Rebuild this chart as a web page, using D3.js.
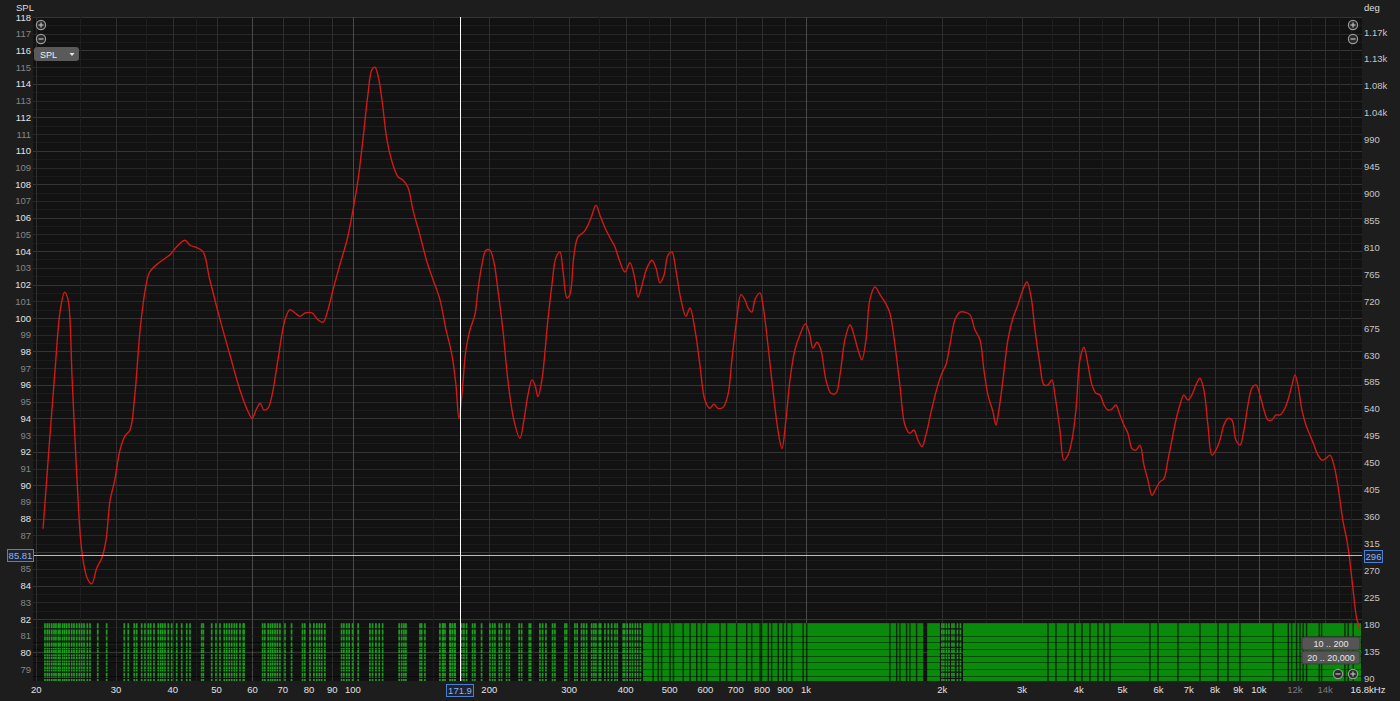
<!DOCTYPE html>
<html>
<head>
<meta charset="utf-8">
<script src="https://cdn.jsdelivr.net/npm/d3@7"></script>
<style>
  html, body { margin: 0; padding: 0; background: #1d1d1d; overflow: hidden; }
  svg { display: block; font-family: "Liberation Sans", Arial, sans-serif; }
</style>
</head>
<body>
<svg id="chart" width="1400" height="701"></svg>
<script>
/*##############################
#   Data  #
###############################*/

// SPL trace (red)
const freqHz = [20.7,21.4,22.0,22.6,23.1,23.5,24.0,24.6,25.2,25.9,26.5,27.2,27.9,28.5,29.1,29.8,30.6,31.4,32.2,33.0,33.9,34.8,35.6,37.5,39.5,41.1,42.6,43.7,45.3,46.7,48.3,50.9,53.5,56.3,58.7,59.9,61.1,62.4,63.6,64.9,66.3,68.3,70.8,72.6,74.5,76.4,78.4,81.2,83.7,85.9,88.1,90.4,93.6,97.0,
  100,102.6,105.2,107.9,110.1,111.8,113.6,115.9,118.9,122.6,125.7,128.9,132.3,135.7,140.6,145.7,150.2,155.6,160.5,165.4,168.8,171.4,174.0,177.6,181.3,185.9,188.8,192.7,196.6,200.6,204.7,208.9,214.3,219.8,226.6,233.7,238.5,243.4,248.4,252.2,256.1,261.3,269.4,275.0,280.6,286.4,290.8,296.8,301.3,307.5,313.9,323.6,330.2,337.0,343.9,351.0,360.0,369.3,378.8,388.6,398.6,408.8,419.4,425.8,434.5,445.7,457.1,466.5,476.1,485.9,495.8,506.0,516.4,529.7,543.4,554.6,568.9,583.4,598.4,613.8,626.5,639.3,655.8,672.6,686.4,704.1,718.6,733.3,744.7,760.0,771.6,791.5,803.6,824.3,845.5,867.3,885.1,903.3,922.0,945.6,970.1,997.5,
  1020,1036,1058,1079,1107,1136,1165,1189,1219,1251,1276,1303,1329,1357,1384,1420,1457,1494,1532,1572,1612,1654,1696,1731,1767,1803,1840,1897,1956,1996,2037,2079,2133,2188,2244,2301,2361,2422,2471,2522,2587,2627,2667,2722,2792,2864,2938,3013,3075,3139,3203,3286,3353,3422,3491,3545,3636,3711,3788,3866,3945,4026,4109,4194,4280,4368,4457,4549,4642,4737,4835,4934,5035,5139,5244,5352,5462,5574,5689,5805,5924,6046,6170,6296,6425,6558,6692,6829,6970,7113,7259,7408,7560,7716,7874,8036,8201,8369,8542,8717,8896,9081,9267,9456,9650,9849,
  10050,10260,10470,10680,10900,11130,11360,11590,11830,12010,12190,12440,12700,12960,13230,13500,13770,14060,14350,14640,14870,15100,15320,15640,15820,16100,16430,16710];
const splDb = [87.4,92.7,96.9,100.5,101.55,101.1,96.3,90.3,86.1,84.45,84.1,85.05,85.65,86.7,89.1,90.3,92.1,92.95,93.3,95.4,99.3,101.7,102.75,103.35,103.8,104.35,104.65,104.35,104.2,103.95,102.3,99.9,97.8,95.7,94.4,94.0,94.5,94.9,94.5,94.6,95.4,97.5,99.9,100.5,100.3,100.1,100.3,100.3,99.9,99.75,100.5,101.7,103.2,104.65,
  106.45,108.25,110.65,113.35,114.85,115.0,114.5,113.05,110.65,109.15,108.45,108.25,107.8,106.45,104.95,103.35,102.3,101.1,99.3,97.8,96.0,94.0,95.4,98.1,99.3,100.2,101.7,103.2,104.05,104.05,103.35,101.7,99.3,96.3,93.9,92.8,93.9,95.4,96.3,96.0,95.3,96.3,99.9,102.0,103.6,103.95,102.85,101.2,101.4,103.75,104.85,105.15,105.55,106.15,106.75,106.15,105.4,104.8,104.25,103.35,102.75,103.3,102.3,101.25,101.95,103.0,103.45,103.0,102.1,102.55,103.75,103.95,102.85,101.1,100.1,100.6,99.3,97.2,95.1,94.6,94.85,94.6,94.65,95.4,97.5,100.0,101.4,101.1,100.6,100.35,101.1,101.5,100.8,98.4,95.7,93.3,92.2,93.9,96.3,98.1,99.0,99.65,
  99.0,98.2,98.55,98.1,96.3,95.5,95.5,96.6,98.7,99.6,99.0,98.1,97.5,98.7,101.1,101.85,101.4,100.95,100.3,98.4,96.0,93.6,93.1,93.3,92.7,92.3,93.0,94.6,96.0,96.7,97.2,98.4,99.9,100.35,100.35,100.2,99.3,98.7,96.9,95.4,94.4,93.6,94.5,96.3,98.7,100.0,100.8,101.7,102.15,101.3,99.3,97.2,96.0,96.0,96.3,95.4,93.3,91.5,91.8,92.7,94.5,97.5,98.25,97.2,96.0,95.5,95.4,94.8,94.5,94.55,94.8,94.2,93.6,93.1,92.2,92.1,92.4,91.2,90.3,89.4,89.8,90.2,90.4,91.5,92.7,93.9,94.8,95.4,95.1,95.4,96.0,96.4,95.7,93.6,91.8,92.1,92.7,93.6,94.0,93.9,92.7,92.4,93.3,94.8,95.8,96.0,
  95.4,94.5,93.9,93.9,94.2,94.2,94.5,95.1,96.0,96.6,96.0,94.5,93.6,93.0,92.4,91.8,91.5,91.6,91.8,91.2,90.3,89.1,87.9,86.7,85.8,84.0,82.05,81.35];

// axis ticks
const splTicks = d3.range(79, 119);
const degTicks = [90,135,180,225,270,315,360,405,450,495,540,585,630,675,720,765,810,855,900,945,990,1035,1080,1125,1170];
const freqTicks = [20,30,40,50,60,70,80,90,100,200,300,400,500,600,700,800,900,1000,2000,3000,4000,5000,6000,7000,8000,9000,10000,12000,14000];
const greyFreqTicks = [12000, 14000];
const freqMinor = [25,35,45,150,250,350,450,1500,2500,3500,4500,11000,13000,15000,16000];

// green bar strip at the bottom
const lowBarsHz = [20.9,21.15,21.37,21.63,21.88,22.1,22.37,22.56,22.87,23.1,23.34,23.62,23.94,24.22,24.56,24.89,25.19,25.49,25.92,26.28,27.33,28.6,31.28,31.92,32.91,33.32,34.17,34.75,35.34,35.77,36.38,37.18,37.64,38.02,38.47,39.12,39.8,40.83,41.88,42.96,43.69,46.36,46.75,48.78,49.85,50.87,52.0,52.64,53.34,54.0,54.72,55.38,56.32,57.27,
  57.5,63.2,63.9,65.0,65.8,66.5,67.3,68.1,69.0,70.8,73.2,77.4,78.3,80.4,82.0,83.2,84.3,85.3,86.7,94.4,95.5,96.9,98.1,99.8,102.7,109.0,110.5,112.4,114.3,116.3,126.5,128.1,129.6,130.9,140.6,141.8,144.2,155.6,158.3,163.7,168.0,
  157.8,159.7,164.3,166.0,167.9,173.8,175.8,178.2,183.7,185.9,192.3,200.6,203.4,205.8,210.4,212.9,218.4,221.4,232.8,235.7,245.0,246.8,258.7,262.3,266.7,275.9,279.2,293.8,296.3,309.0,312.6,319.7,323.5,328.0,336.5,340.4,343.9,349.8,352.3,360.0,366.2,372.5,378.8,383.2,395.1,398,403,409,414,420,425,431,
  1996,2016,2042,2069,2101,2122,2160,2193];
const solidBandsHz = [[437, 1815], [1852, 1976], [2222, 16800]];
const darkLinesHz = [460,472,480,501,510,536,555,574,588,604,646,668,703,740,759,792,798,826,840,869,891,907,930,986,1004,1532,1586,1612,1668,1696,1755,
  3422,3564,3788,3925,4068,4236,4412,4549,4690,5745,5984,6625,7408,8120,8542,9081,10750,11610,11810,12110,12320,12520,12740,13590,13750,15480,15740,16150];

// cursors
const cursorHz = 171.9, cursorSpl = 85.81, cursorDeg = 296;

/*##############################
#       Scales                 #
###############################*/
const svg = d3.select("#chart");
const plot = {left: 33, right: 1362, top: 17, bottom: 681};

const x = d3.scaleLog().domain([20, 16800]).range([36.3, 1361]);
const y = d3.scaleLinear().domain([82, 118]).range([619, 17]);
const yDeg = d3.scaleLinear().domain([90, 1170]).range([678, 32]);

svg.append("rect").attr("width", 1400).attr("height", 701).attr("fill", "#1d1d1d");
svg.append("rect")
  .attr("x", plot.left).attr("y", plot.top)
  .attr("width", plot.right - plot.left).attr("height", plot.bottom - plot.top)
  .attr("fill", "#121212");

svg.append("clipPath").attr("id", "clip").append("rect")
  .attr("x", plot.left).attr("y", plot.top)
  .attr("width", plot.right - plot.left).attr("height", plot.bottom - plot.top);

const g = svg.append("g").attr("clip-path", "url(#clip)");

// grid - half dB, then whole dB
g.selectAll(".hminor").data(splTicks).enter().append("line")
  .attr("x1", plot.left).attr("x2", plot.right)
  .attr("y1", d => Math.round(y(d + 0.5)) + 0.5).attr("y2", d => Math.round(y(d + 0.5)) + 0.5)
  .attr("stroke", "#1c1c1c");
g.selectAll(".hmajor").data(splTicks).enter().append("line")
  .attr("x1", plot.left).attr("x2", plot.right)
  .attr("y1", d => Math.round(y(d)) + 0.5).attr("y2", d => Math.round(y(d)) + 0.5)
  .attr("stroke", d => d % 2 == 0 ? "#353535" : "#282828");

g.selectAll(".vminor").data(freqMinor).enter().append("line")
  .attr("x1", d => Math.round(x(d)) + 0.5).attr("x2", d => Math.round(x(d)) + 0.5)
  .attr("y1", plot.top).attr("y2", plot.bottom)
  .attr("stroke", "#1e1e1e");
g.selectAll(".vmajor").data(freqTicks).enter().append("line")
  .attr("x1", d => Math.round(x(d)) + 0.5).attr("x2", d => Math.round(x(d)) + 0.5)
  .attr("y1", plot.top).attr("y2", plot.bottom)
  .attr("stroke", d => [60, 100, 1000, 10000].includes(d) ? "#4a4a4a" : "#2e2e2e");

// green strip
const stripTop = y(81.75);
g.selectAll(".band").data(solidBandsHz).enter().append("rect")
  .attr("x", d => x(d[0])).attr("width", d => x(d[1]) - x(d[0]))
  .attr("y", stripTop).attr("height", plot.bottom - stripTop)
  .attr("fill", "#0a8a0a");
g.selectAll(".lowbar").data(lowBarsHz).enter().append("line")
  .attr("x1", d => x(d)).attr("x2", d => x(d))
  .attr("y1", stripTop).attr("y2", plot.bottom)
  .attr("stroke", "#1aa01c").attr("stroke-width", 1.7)
  .attr("stroke-dasharray", "5,1.2");
g.selectAll(".darkbar").data(darkLinesHz).enter().append("rect")
  .attr("x", d => x(d) - 0.7).attr("width", 1.4)
  .attr("y", stripTop).attr("height", plot.bottom - stripTop)
  .attr("fill", "#0b2a0b");
g.selectAll(".stripline").data(d3.range(78.6, 81.01, 0.4)).enter().append("line")
  .attr("x1", plot.left).attr("x2", plot.right)
  .attr("y1", d => Math.round(y(d)) + 0.5).attr("y2", d => Math.round(y(d)) + 0.5)
  .attr("stroke", "rgba(0,0,0,0.45)").attr("stroke-width", 1.2);

// red SPL line
const pts = freqHz.map((f, i) => [f, splDb[i]]);
g.append("path")
  .datum(pts)
  .attr("fill", "none")
  .attr("stroke", "#d31818")
  .attr("stroke-width", 1.4)
  .attr("d", d3.line().x(d => x(d[0])).y(d => y(d[1])).curve(d3.curveCatmullRom.alpha(0.5)));

// cursors
g.append("line")
  .attr("x1", plot.left).attr("x2", plot.right)
  .attr("y1", Math.round(y(cursorSpl)) + 0.5).attr("y2", Math.round(y(cursorSpl)) + 0.5)
  .attr("stroke", "#bdbdbd");
g.append("line")
  .attr("x1", Math.round(x(cursorHz)) + 0.5).attr("x2", Math.round(x(cursorHz)) + 0.5)
  .attr("y1", plot.top).attr("y2", plot.bottom)
  .attr("stroke", "#ffffff");

/*##############################
#       Axis labels            #
###############################*/
svg.append("text").attr("x", 16).attr("y", 11).attr("font-size", 9.5).attr("fill", "#dcdcdc").text("SPL");
svg.append("text").attr("x", 1364).attr("y", 11).attr("font-size", 9.5).attr("fill", "#dcdcdc").text("deg");

// the cursor readout box sits on top of the nearest SPL label
const splShown = splTicks.filter(d => Math.abs(y(d) - y(cursorSpl)) > 8);
svg.selectAll(".splLab").data(splShown).enter().append("text")
  .attr("x", 31).attr("y", d => y(d) + 3.5)
  .attr("text-anchor", "end").attr("font-size", 9.5)
  .attr("fill", d => d % 2 == 0 ? "#e2e2e2" : "#858585")
  .text(d => d);

const degFmt = d => d >= 1000 ? (Math.round(d / 10) / 100) + "k" : d;
svg.selectAll(".degLab").data(degTicks).enter().append("text")
  .attr("x", 1364).attr("y", d => yDeg(d) + 3.5)
  .attr("font-size", 9.5).attr("fill", "#c4c4c4")
  .text(degFmt);

const fFmt = d => d >= 1000 ? (d / 1000) + "k" : d;
svg.selectAll(".fLab").data(freqTicks).enter().append("text")
  .attr("x", d => x(d)).attr("y", 693)
  .attr("text-anchor", "middle").attr("font-size", 9.5)
  .attr("fill", d => greyFreqTicks.includes(d) ? "#7a7a7a" : "#e2e2e2")
  .text(fFmt);
svg.append("text").attr("x", 1368).attr("y", 693).attr("text-anchor", "middle")
  .attr("font-size", 9.5).attr("fill", "#e2e2e2").text("16.8kHz");

// cursor readouts
function readout(cx, cy, w, txt) {
  svg.append("rect").attr("x", cx).attr("y", cy).attr("width", w).attr("height", 12)
    .attr("fill", "#1d2430").attr("stroke", "#4f7fcf").attr("stroke-width", 1);
  svg.append("text").attr("x", cx + w / 2).attr("y", cy + 9.5).attr("text-anchor", "middle")
    .attr("font-size", 9.5).attr("fill", "#8fb3ef").text(txt);
}
readout(7.5, Math.round(y(cursorSpl)) - 5.5, 26, cursorSpl.toFixed(2));
readout(1364.5, Math.round(yDeg(cursorDeg)) - 4.5, 18, cursorDeg);
readout(Math.round(x(cursorHz)) - 13.5, 684.5, 27, cursorHz.toFixed(1));

/*##############################
#       Widgets                #
###############################*/
function zoomBtn(cx, cy, plus) {
  svg.append("circle").attr("cx", cx).attr("cy", cy).attr("r", 4.6)
    .attr("fill", "#2a2a2a").attr("stroke", "#9a9a9a").attr("stroke-width", 1.2);
  svg.append("line").attr("x1", cx - 2.5).attr("x2", cx + 2.5).attr("y1", cy).attr("y2", cy)
    .attr("stroke", "#b5b5b5").attr("stroke-width", 1.3);
  if (plus) {
    svg.append("line").attr("x1", cx).attr("x2", cx).attr("y1", cy - 2.5).attr("y2", cy + 2.5)
      .attr("stroke", "#b5b5b5").attr("stroke-width", 1.3);
  }
}
zoomBtn(41, 25, true);
zoomBtn(41, 39, false);
zoomBtn(1353, 25, true);
zoomBtn(1353, 39, false);
zoomBtn(1338, 674, false);
zoomBtn(1353, 674, true);

// SPL drop-down
svg.append("rect").attr("x", 34).attr("y", 47).attr("width", 45).attr("height", 14).attr("rx", 3)
  .attr("fill", "#5a5a5a");
svg.append("text").attr("x", 40).attr("y", 57.5).attr("font-size", 9).attr("fill", "#f0f0f0").text("SPL");
svg.append("path").attr("d", "M69.5,53 L74.5,53 L72,56 Z").attr("fill", "#e8e8e8");

// range buttons
[["10 .. 200", 637], ["20 .. 20,000", 651]].forEach(function(r) {
  svg.append("rect").attr("x", 1302).attr("y", r[1]).attr("width", 58).attr("height", 13).attr("rx", 2)
    .attr("fill", "#555555").attr("stroke", "#3a3a3a");
  svg.append("text").attr("x", 1331).attr("y", r[1] + 9.5).attr("text-anchor", "middle")
    .attr("font-size", 9).attr("fill", "#e6e6e6").text(r[0]);
});
</script>
</body>
</html>
